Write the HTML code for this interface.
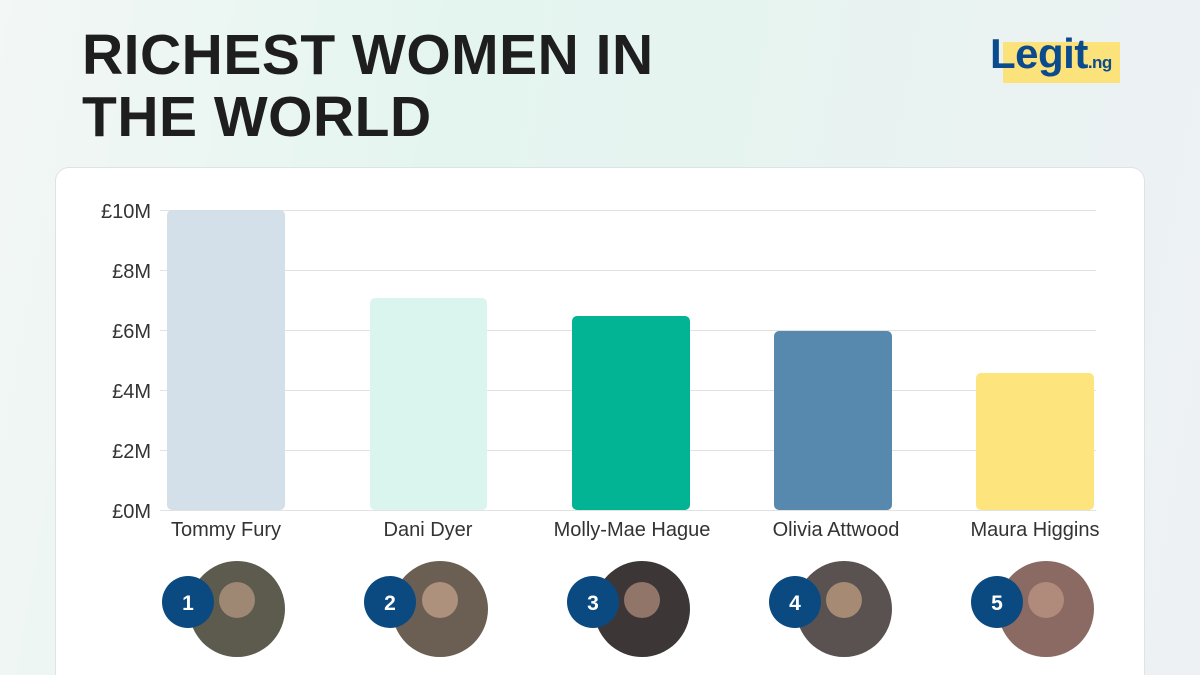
<!DOCTYPE html>
<html><head><meta charset="utf-8"><style>
html,body{margin:0;width:1200px;height:675px;overflow:hidden}
body{font-family:"Liberation Sans",sans-serif;
background:linear-gradient(100deg,#f3f7f6 0%,#e4f5ef 35%,#e6f4f0 55%,#eef1f4 100%);position:relative}
.t{position:absolute;left:82px;top:24px;font-size:57px;font-weight:bold;color:#1e1e1e;line-height:62px;letter-spacing:0.5px}
.card{position:absolute;left:55px;top:167px;width:1090px;height:508px;background:#fff;border-radius:14px 14px 0 0;border:1px solid #dde3e6;border-bottom:none;box-sizing:border-box}
.logo{position:absolute;left:990px;top:30px}
</style></head><body>
<div class="t">RICHEST WOMEN IN<br>THE WORLD</div>
<div class="logo"><div style="position:absolute;left:13px;top:12px;width:117px;height:41px;background:#fbe27a"></div>
<div style="position:relative;font-size:42px;font-weight:bold;color:#0b4a8c;letter-spacing:-0.5px">Legit<span style="font-size:17px">.ng</span></div></div>
<div class="card"></div>
<svg width="1200" height="675" style="position:absolute;left:0;top:0" font-family="Liberation Sans, sans-serif">
<g stroke="#e2e2e2" stroke-width="1">
<line x1="160" x2="1096" y1="210.5" y2="210.5"/><line x1="160" x2="1096" y1="270.5" y2="270.5"/>
<line x1="160" x2="1096" y1="330.5" y2="330.5"/><line x1="160" x2="1096" y1="390.5" y2="390.5"/>
<line x1="160" x2="1096" y1="450.5" y2="450.5"/><line x1="160" x2="1096" y1="510.5" y2="510.5"/></g>
<g font-size="20" fill="#333" text-anchor="end">
<text x="151" y="218">£10M</text><text x="151" y="278">£8M</text><text x="151" y="338">£6M</text>
<text x="151" y="398">£4M</text><text x="151" y="458">£2M</text><text x="151" y="518">£0M</text></g>
<rect x="167" y="210" width="118" height="300" rx="5" fill="#d3e0ea"/>
<rect x="370" y="298" width="117" height="212" rx="5" fill="#d9f5ee"/>
<rect x="572" y="316" width="118" height="194" rx="5" fill="#02b493"/>
<rect x="774" y="331" width="118" height="179" rx="5" fill="#5689ad"/>
<rect x="976" y="373" width="118" height="137" rx="5" fill="#fee47c"/>
<g font-size="20" fill="#333" text-anchor="middle">
<text x="226" y="536">Tommy Fury</text><text x="428" y="536">Dani Dyer</text><text x="632" y="536">Molly-Mae Hague</text>
<text x="836" y="536">Olivia Attwood</text><text x="1035" y="536">Maura Higgins</text></g>
<g>
<circle cx="237" cy="609" r="48" fill="#5d5a4e"/><circle cx="440" cy="609" r="48" fill="#6b5e52"/>
<circle cx="642" cy="609" r="48" fill="#3c3636"/><circle cx="844" cy="609" r="48" fill="#5a5250"/>
<circle cx="1046" cy="609" r="48" fill="#8a6a62"/>
<circle cx="237" cy="600" r="18" fill="#c9a58c" opacity=".6"/><circle cx="440" cy="600" r="18" fill="#d8b49a" opacity=".6"/>
<circle cx="642" cy="600" r="18" fill="#c9a08c" opacity=".6"/><circle cx="844" cy="600" r="18" fill="#d8b08c" opacity=".6"/>
<circle cx="1046" cy="600" r="18" fill="#c9a08c" opacity=".6"/>
</g>
<g fill="#0b4a80"><circle cx="188" cy="602" r="26"/><circle cx="390" cy="602" r="26"/><circle cx="593" cy="602" r="26"/><circle cx="795" cy="602" r="26"/><circle cx="997" cy="602" r="26"/></g>
<g font-size="21" font-weight="bold" fill="#fff" text-anchor="middle">
<text x="188" y="610">1</text><text x="390" y="610">2</text><text x="593" y="610">3</text><text x="795" y="610">4</text><text x="997" y="610">5</text></g>
</svg>
</body></html>
